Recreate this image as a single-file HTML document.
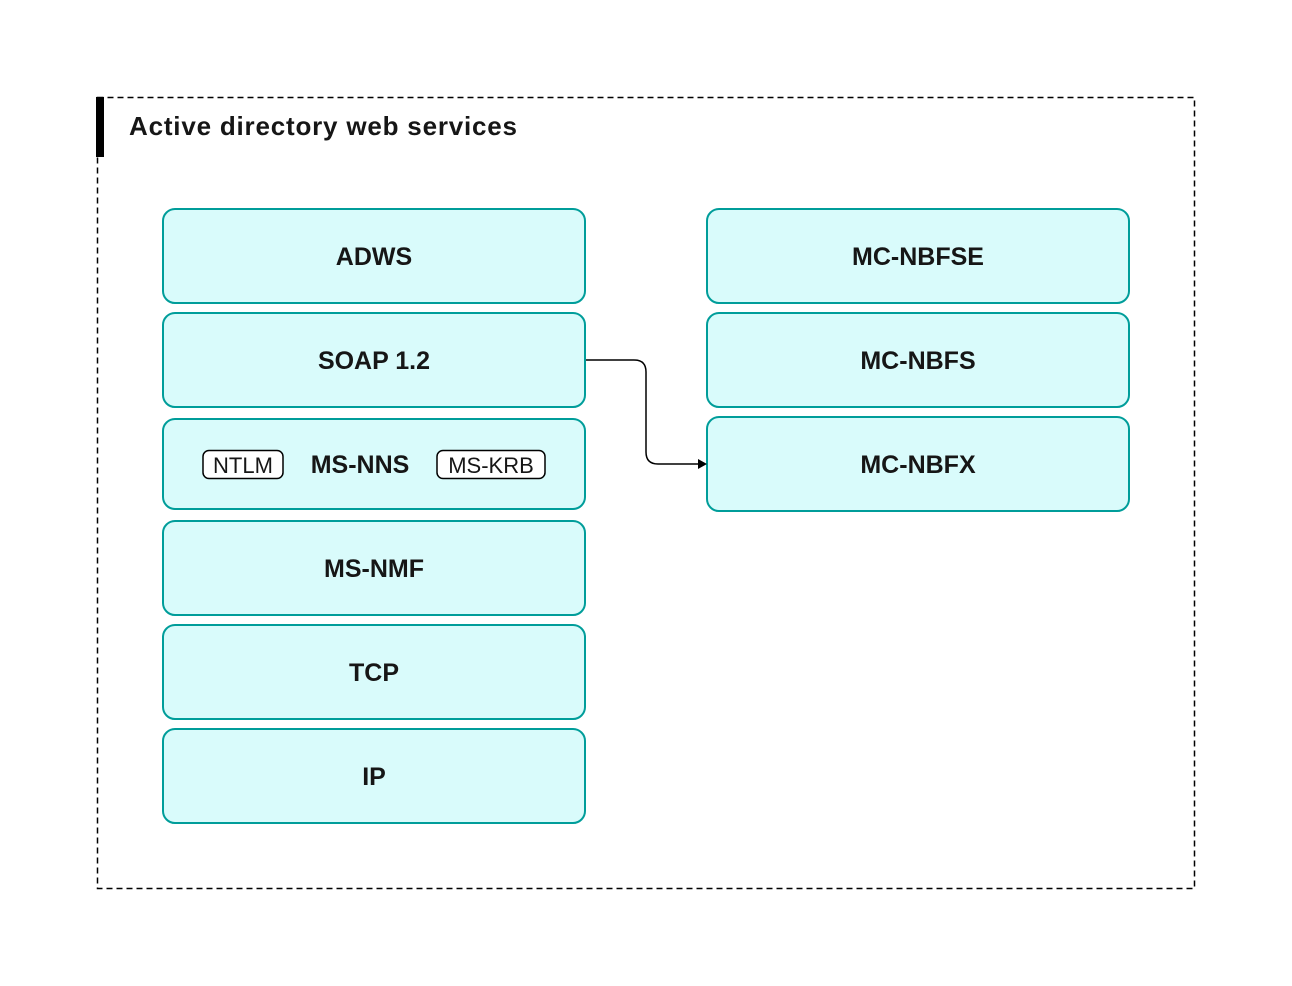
<!DOCTYPE html>
<html><head><meta charset="utf-8"><style>
html,body{margin:0;padding:0;background:#fff;}
svg{display:block;}
text{font-family:"Liberation Sans",sans-serif;}
</style></head><body>
<svg width="1292" height="986" viewBox="0 0 1292 986">
<rect x="97.5" y="97.5" width="1097" height="791" fill="none" stroke="#000" stroke-width="1.5" stroke-dasharray="6,4"/>
<rect x="96" y="97" width="8" height="60" fill="#000"/>
<text x="129" y="135" font-size="26" font-weight="bold" fill="#161616" textLength="388" lengthAdjust="spacing">Active directory web services</text>
<g fill="#d9fbfb" stroke="#009d9a" stroke-width="2">
<rect x="163" y="209" width="422" height="94" rx="12"/>
<rect x="163" y="313" width="422" height="94" rx="12"/>
<rect x="163" y="419" width="422" height="90" rx="12"/>
<rect x="163" y="521" width="422" height="94" rx="12"/>
<rect x="163" y="625" width="422" height="94" rx="12"/>
<rect x="163" y="729" width="422" height="94" rx="12"/>
<rect x="707" y="209" width="422" height="94" rx="12"/>
<rect x="707" y="313" width="422" height="94" rx="12"/>
<rect x="707" y="417" width="422" height="94" rx="12"/>
</g>
<g font-size="25" font-weight="bold" fill="#161616" text-anchor="middle">
<text x="374" y="265">ADWS</text>
<text x="374" y="369">SOAP 1.2</text>
<text x="360" y="473">MS-NNS</text>
<text x="374" y="577">MS-NMF</text>
<text x="374" y="681">TCP</text>
<text x="374" y="785">IP</text>
<text x="918" y="265">MC-NBFSE</text>
<text x="918" y="369">MC-NBFS</text>
<text x="918" y="473">MC-NBFX</text>
</g>
<rect x="203" y="450.5" width="80" height="28" rx="6" fill="#fff" stroke="#000" stroke-width="1.5"/>
<rect x="437" y="450.5" width="108" height="28" rx="6" fill="#fff" stroke="#000" stroke-width="1.5"/>
<g font-size="22" fill="#161616" text-anchor="middle">
<text x="243" y="473">NTLM</text>
<text x="491" y="473">MS-KRB</text>
</g>
<path d="M586 360 H634 Q646 360 646 372 V452 Q646 464 658 464 H698" fill="none" stroke="#000" stroke-width="1.5"/>
<polygon points="698,459 707,464 698,469" fill="#000"/>
</svg>
</body></html>
